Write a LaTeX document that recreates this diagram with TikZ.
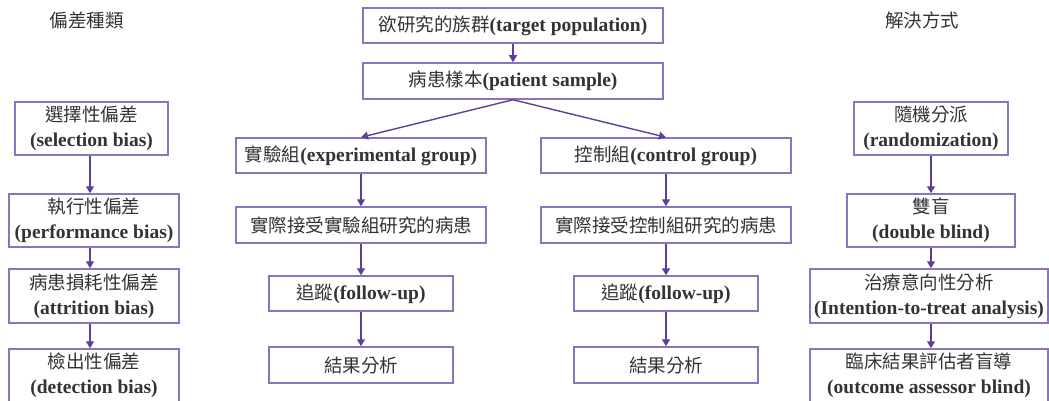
\documentclass[tikz,border=0pt]{standalone}
\usepackage{fontspec}
\setmainfont{Liberation Serif}
\newfontfamily\cjk{Noto Sans CJK TC}
\usetikzlibrary{arrows.meta}
\newcommand\zh[1]{{\cjk\mdseries\fontsize{18.5}{25}\selectfont #1}}
\definecolor{boxc}{HTML}{8C73BF}
\definecolor{arrc}{HTML}{5E3F97}
\definecolor{txtc}{HTML}{333333}
\tikzset{
  bx/.style={draw=boxc, line width=1.5pt, rectangle, inner sep=0pt, align=center,
    text=txtc, font=\fontsize{19.5}{25}\selectfont\bfseries},
  arr/.style={draw=arrc, line width=1.4pt, -{Triangle[width=8pt,length=7pt]}},
  hdr/.style={text=txtc, inner sep=0pt}
}
\begin{document}
\begin{tikzpicture}[x=1pt,y=-1pt]
\useasboundingbox (0,0) rectangle (1049,401);
\clip (0,0) rectangle (1049,401);
% headers
\node[hdr] (h1) at (86.5,20) {\zh{偏差種類}};
\node[hdr] (h2) at (922,20) {\zh{解決方式}};
% left column
\node[bx, minimum width=153pt, minimum height=53pt] (L1) at (91.5,128.5) {\zh{選擇性偏差}\\(selection bias)};
\node[bx, minimum width=170pt, minimum height=53pt] (L2) at (94,220.5) {\zh{執行性偏差}\\(performance bias)};
\node[bx, minimum width=170pt, minimum height=54pt] (L3) at (94,296) {\zh{病患損耗性偏差}\\(attrition bias)};
\node[bx, minimum width=170pt, minimum height=53pt] (L4) at (94,375.5) {\zh{檢出性偏差}\\(detection bias)};
% center
\node[bx, minimum width=300pt, minimum height=35pt] (T) at (513,25.5) {\zh{欲研究的族群}(target population)};
\node[bx, minimum width=300pt, minimum height=36pt] (P) at (513,81) {\zh{病患樣本}(patient sample)};
\node[bx, minimum width=250pt, minimum height=35pt] (E1) at (361,155.5) {\zh{實驗組}(experimental group)};
\node[bx, minimum width=250pt, minimum height=35pt] (C1) at (666,155.5) {\zh{控制組}(control group)};
\node[bx, minimum width=250pt, minimum height=36pt] (E2) at (361,225) {\zh{實際接受實驗組研究的病患}};
\node[bx, minimum width=250pt, minimum height=36pt] (C2) at (666,225) {\zh{實際接受控制組研究的病患}};
\node[bx, minimum width=184pt, minimum height=35pt] (E3) at (361,293.5) {\zh{追蹤}(follow-up)};
\node[bx, minimum width=184pt, minimum height=35pt] (C3) at (666,293.5) {\zh{追蹤}(follow-up)};
\node[bx, minimum width=184pt, minimum height=36pt] (E4) at (361,365) {\zh{結果分析}};
\node[bx, minimum width=184pt, minimum height=36pt] (C4) at (666,365) {\zh{結果分析}};
% right column
\node[bx, minimum width=154pt, minimum height=53pt] (R1) at (931,128.5) {\zh{隨機分派}\\(randomization)};
\node[bx, minimum width=168pt, minimum height=53pt] (R2) at (931,220.5) {\zh{雙盲}\\(double blind)};
\node[bx, minimum width=238pt, minimum height=54pt] (R3) at (929,296) {\zh{治療意向性分析}\\(Intention-to-treat analysis)};
\node[bx, minimum width=238pt, minimum height=53pt] (R4) at (929,375.5) {\zh{臨床結果評估者盲導}\\(outcome assessor blind)};
% arrows left
\draw[arr] ([xshift=-1.5pt]L1.south) -- ([xshift=-1.5pt]L1.south |- L2.north);
\draw[arr] ([xshift=-4pt]L2.south) -- ([xshift=-4pt]L2.south |- L3.north);
\draw[arr] ([xshift=-4pt]L3.south) -- ([xshift=-4pt]L3.south |- L4.north);
% arrows center
\draw[arr] (T.south) -- (T.south |- P.north);
\draw[arr] (P.south) -- (E1.north);
\draw[arr] (P.south) -- (C1.north);
\draw[arr] (E1.south) -- (E1.south |- E2.north);
\draw[arr] (E2.south) -- (E2.south |- E3.north);
\draw[arr] (E3.south) -- (E3.south |- E4.north);
\draw[arr] (C1.south) -- (C1.south |- C2.north);
\draw[arr] (C2.south) -- (C2.south |- C3.north);
\draw[arr] (C3.south) -- (C3.south |- C4.north);
% arrows right
\draw[arr] (R1.south) -- (R1.south |- R2.north);
\draw[arr] (R2.south) -- (R2.south |- R3.north);
\draw[arr] (R2.south |- R3.south) -- (R2.south |- R4.north);
\end{tikzpicture}
\end{document}
